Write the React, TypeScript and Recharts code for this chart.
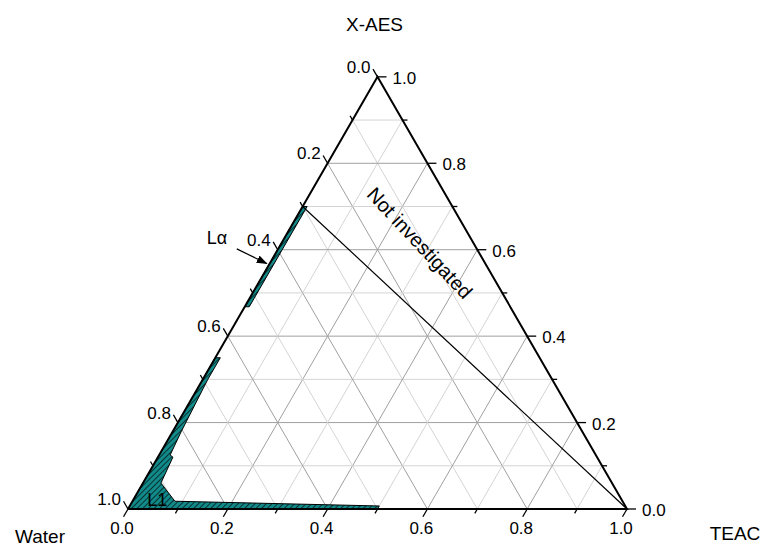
import { ScatterChart, Scatter, XAxis, YAxis, ReferenceLine } from 'recharts';

const H = Math.sqrt(3) / 2;
const PX = 499; // pixels per unit side of the triangle

// ternary -> plane, t = TEAC fraction, a = X-AES fraction
const toXY = (t: number, a: number) => ({ x: t + a / 2, y: a * H });

const tickValues = [0, 0.1, 0.2, 0.3, 0.4, 0.5, 0.6, 0.7, 0.8, 0.9, 1.0];
const labelValues = [0, 0.2, 0.4, 0.6, 0.8, 1.0];
const tickLabels = ['0.0', '0.2', '0.4', '0.6', '0.8', '1.0'];
const gridValues = [0.1, 0.2, 0.3, 0.4, 0.5, 0.6, 0.7, 0.8, 0.9];

// L1 region, (TEAC, X-AES)
const l1Teac = [0, 0.5, 0.5, 0.085, 0.036, 0.03, 0.022, 0.017, 0.01, 0.01, 0, 0];
const l1Aes = [0, 0, 0.007, 0.018, 0.06, 0.12, 0.125, 0.18, 0.3, 0.35, 0.35, 0];

// L-alpha region
const laTeac = [0, 0.009, 0.009, 0, 0];
const laAes = [0.468, 0.468, 0.7, 0.7, 0.468];

// limit of the investigated area
const limitTeac = [0, 1];
const limitAes = [0.7, 0];

// arrow pointing at L-alpha
const arrowTeac = [-0.083, -0.006];
const arrowAes = [0.602, 0.568];

const cornerTeac = [0, 1, 0, 0];
const cornerAes = [0, 0, 1, 0];

const font = '"Liberation Sans", Arial, sans-serif';

const poly = (ts: number[], as: number[]) => ts.map((t, i) => toXY(t, as[i]));

const l1Data = poly(l1Teac, l1Aes);
const laData = poly(laTeac, laAes);
const frameData = poly(cornerTeac, cornerAes);
const limitData = poly(limitTeac, limitAes);

const bottomLabels = labelValues.map((v, i) => ({ ...toXY(v, 0), label: tickLabels[i] }));
const rightLabels = labelValues.map((v, i) => ({ ...toXY(1 - v, v), label: tickLabels[i] }));
const leftLabels = labelValues.map((v, i) => ({ ...toXY(0, 1 - v), label: tickLabels[i] }));

const titles = [
  { ...toXY(0, 1), label: 'X-AES', dx: -3, dy: -46 },
  { ...toXY(0, 0), label: 'Water', dx: -88, dy: 34 },
  { ...toXY(1, 0), label: 'TEAC', dx: 108, dy: 31 },
];

const notes = [
  { ...toXY(0.048, 0.021), label: 'L1', rot: 0, size: 18 },
  { ...toXY(-0.135, 0.627), label: 'L\u03b1', rot: 0, size: 18 },
  { ...toXY(0.277, 0.6155), label: 'Not investigated', rot: 47, size: 20 },
];

const textShape =
  (dx: number, dy: number, anchor: string, size = 17) =>
  (p: any) =>
    (
      <text
        x={p.cx + dx}
        y={p.cy + dy}
        textAnchor={anchor}
        fontSize={size}
        fontFamily={font}
        fill="#000"
      >
        {p.payload.label}
      </text>
    );

const noShape = () => <g />;

function gridSegments() {
  const out: any[] = [];
  gridValues.forEach((v, i) => {
    const major = i % 2 === 1;
    const stroke = major ? '#a0a0a0' : '#d4d4d4';
    out.push({ key: `t${i}`, stroke, seg: [toXY(v, 0), toXY(v, 1 - v)] });
    out.push({ key: `a${i}`, stroke, seg: [toXY(0, v), toXY(1 - v, v)] });
    out.push({ key: `w${i}`, stroke, seg: [toXY(0, 1 - v), toXY(1 - v, 0)] });
  });
  return out;
}

function tickSegments() {
  const out: any[] = [];
  tickValues.forEach((v, i) => {
    const tl = (i % 2 === 0 ? 9 : 5) / PX;
    const b = toXY(v, 0);
    out.push({ key: `bt${i}`, seg: [b, { x: b.x - tl * 0.5, y: b.y - tl * H }] });
    const r = toXY(1 - v, v);
    out.push({ key: `rt${i}`, seg: [r, { x: r.x + tl, y: r.y }] });
    const l = toXY(0, 1 - v);
    out.push({ key: `lt${i}`, seg: [l, { x: l.x - tl * 0.5, y: l.y + tl * H }] });
  });
  return out;
}

export default function App() {
  return (
    <div style={{ position: 'absolute', left: 0, top: 0, width: 764, height: 546, background: '#fff' }}>
      <svg width={0} height={0} style={{ position: 'absolute' }}>
        <defs>
          <pattern id="hatch" width={4} height={4} patternUnits="userSpaceOnUse" patternTransform="rotate(45)">
            <rect width={4} height={4} fill="#128a8a" />
            <line x1={0} y1={0} x2={0} y2={4} stroke="#000" strokeWidth={1.3} />
          </pattern>
          <marker id="arrowHead" markerWidth={11} markerHeight={8} refX={10} refY={4} orient="auto" markerUnits="userSpaceOnUse">
            <path d="M0,0 L11,4 L0,8 z" fill="#000" />
          </marker>
        </defs>
      </svg>
      <ScatterChart width={764} height={546} margin={{ top: 0, right: 0, bottom: 0, left: 0 }}>
        <XAxis type="number" dataKey="x" domain={[-128 / PX, 636 / PX]} allowDataOverflow hide />
        <YAxis type="number" dataKey="y" domain={[-37 / PX, 509 / PX]} allowDataOverflow hide />
        {gridSegments().map((g) => (
          <ReferenceLine key={g.key} segment={g.seg} stroke={g.stroke} strokeWidth={1} ifOverflow="visible" />
        ))}
        <Scatter
          data={l1Data}
          shape={noShape}
          line={{ stroke: '#000', strokeWidth: 1, fill: 'url(#hatch)' }}
          lineJointType="linear"
          isAnimationActive={false}
        />
        <Scatter
          data={laData}
          shape={noShape}
          line={{ stroke: '#000', strokeWidth: 1, fill: 'url(#hatch)' }}
          lineJointType="linear"
          isAnimationActive={false}
        />
        <Scatter
          data={limitData}
          shape={noShape}
          line={{ stroke: '#000', strokeWidth: 1.2, fill: 'none' }}
          lineJointType="linear"
          isAnimationActive={false}
        />
        <Scatter
          data={frameData}
          shape={noShape}
          line={{ stroke: '#000', strokeWidth: 2, fill: 'none', strokeLinejoin: 'miter' }}
          lineJointType="linear"
          isAnimationActive={false}
        />
        {tickSegments().map((t) => (
          <ReferenceLine key={t.key} segment={t.seg} stroke="#000" strokeWidth={1.3} ifOverflow="visible" />
        ))}
        <ReferenceLine
          segment={poly(arrowTeac, arrowAes)}
          stroke="#000"
          strokeWidth={1.2}
          markerEnd="url(#arrowHead)"
          ifOverflow="visible"
        />
        <Scatter data={bottomLabels} shape={textShape(-6, 25, 'middle')} isAnimationActive={false} />
        <Scatter data={rightLabels} shape={textShape(15, 7, 'start')} isAnimationActive={false} />
        <Scatter data={leftLabels} shape={textShape(-7, -4, 'end')} isAnimationActive={false} />
        <Scatter
          data={titles}
          shape={(p: any) => (
            <text x={p.cx + p.payload.dx} y={p.cy + p.payload.dy} textAnchor="middle" fontSize={19} fontFamily={font}>
              {p.payload.label}
            </text>
          )}
          isAnimationActive={false}
        />
        <Scatter
          data={notes}
          shape={(p: any) => (
            <text
              x={p.cx}
              y={p.cy}
              textAnchor="middle"
              dominantBaseline="central"
              fontSize={p.payload.size}
              fontFamily={font}
              transform={`rotate(${p.payload.rot} ${p.cx} ${p.cy})`}
            >
              {p.payload.label}
            </text>
          )}
          isAnimationActive={false}
        />
      </ScatterChart>
    </div>
  );
}
